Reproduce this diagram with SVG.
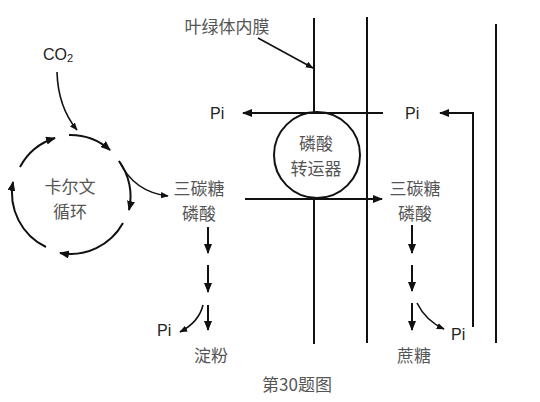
<svg xmlns="http://www.w3.org/2000/svg" width="540" height="402" viewBox="0 0 540 402">
<defs>
<marker id="ah" viewBox="0 0 10 8" refX="9" refY="4" markerWidth="10" markerHeight="8" markerUnits="userSpaceOnUse" orient="auto">
<path d="M0,0 L10,4 L0,8 Z" fill="#111"/>
</marker>
<marker id="ahs" viewBox="0 0 10 8" refX="9" refY="4" markerWidth="8" markerHeight="6.4" markerUnits="userSpaceOnUse" orient="auto">
<path d="M0,0 L10,4 L0,8 Z" fill="#111"/>
</marker>
</defs>
<style>
.ln{stroke:#111;stroke-width:2;fill:none}
.ar{stroke:#111;stroke-width:2;fill:none;marker-end:url(#ah)}
.cv{stroke:#111;stroke-width:1.6;fill:none;marker-end:url(#ahs)}
.zh{font-family:"Noto Sans CJK SC","Noto Sans",sans-serif;fill:#555;text-anchor:middle;dominant-baseline:central;font-size:17px}
.la{font-family:"Liberation Sans","Noto Sans",sans-serif;fill:#222;font-size:16px;dominant-baseline:central}
</style>
<rect width="540" height="402" fill="#fff"/>

<g id="membranes">
<line class="ln" x1="314" y1="18" x2="314" y2="344"/>
<line class="ln" x1="367" y1="17" x2="367" y2="343"/>
<line class="ln" x1="496" y1="24" x2="496" y2="343"/>
</g>

<g id="transporter">
<circle cx="317" cy="155" r="43" fill="#fff" stroke="#111" stroke-width="2"/>
<text class="zh" x="316" y="142">磷酸</text>
<text class="zh" x="316" y="167">转运器</text>
</g>

<g id="calvin">
<text class="zh" x="70" y="185">卡尔文</text>
<text class="zh" x="70" y="210">循环</text>
</g>

<g id="co2">
<text class="la" x="43" y="54">CO<tspan font-size="11" dy="4">2</tspan></text>
</g>
<g id="label-membrane">
<text class="zh" x="227" y="25" font-size="18">叶绿体内膜</text>
</g>
<g id="pi-top-left"><text class="la" x="210" y="113">Pi</text></g>
<g id="pi-top-right"><text class="la" x="405" y="113">Pi</text></g>
<g id="triose-left">
<text class="zh" x="199" y="187">三碳糖</text>
<text class="zh" x="199" y="212">磷酸</text>
</g>
<g id="triose-right">
<text class="zh" x="415" y="187">三碳糖</text>
<text class="zh" x="415" y="212">磷酸</text>
</g>
<g id="pi-bottom-left"><text class="la" x="157" y="330">Pi</text></g>
<g id="pi-bottom-right"><text class="la" x="451" y="334">Pi</text></g>
<g id="starch"><text class="zh" x="211" y="354">淀粉</text></g>
<g id="sucrose"><text class="zh" x="414" y="354">蔗糖</text></g>
<g id="caption"><text class="zh" x="297" y="383">第30题图</text></g>

<g id="connectors">
<path class="ar" d="M69,135 A60,60 0 0 1 110,150"/>
<path class="ar" d="M119,161 A60,60 0 0 1 129,210"/>
<path class="ar" d="M123,223 A60,60 0 0 1 60,253"/>
<path class="ar" d="M46,247 A60,60 0 0 1 13,182"/>
<path class="ar" d="M20,167 A60,60 0 0 1 55,138"/>
<path class="cv" d="M57,72 Q58,107 77,130"/>
<path class="cv" d="M119,161 Q134,192 168,196"/>
<line class="cv" x1="258" y1="38" x2="313" y2="68"/>
<line class="ar" x1="383" y1="113" x2="243" y2="113"/>
<line class="ar" x1="245" y1="199" x2="382" y2="199"/>
<path class="ar" d="M473,327 L473,113 L440,113"/>
<line class="ar" x1="208" y1="227" x2="208" y2="253"/>
<line class="ar" x1="208" y1="265" x2="208" y2="292"/>
<line class="ar" x1="208" y1="305" x2="208" y2="330"/>
<path class="cv" d="M203,305 Q199,322 180,332"/>
<line class="ar" x1="412" y1="225" x2="412" y2="253"/>
<line class="ar" x1="412" y1="265" x2="412" y2="291"/>
<line class="ar" x1="412" y1="303" x2="412" y2="330"/>
<path class="cv" d="M417,303 Q426,321 444,329"/>
</g>
</svg>
